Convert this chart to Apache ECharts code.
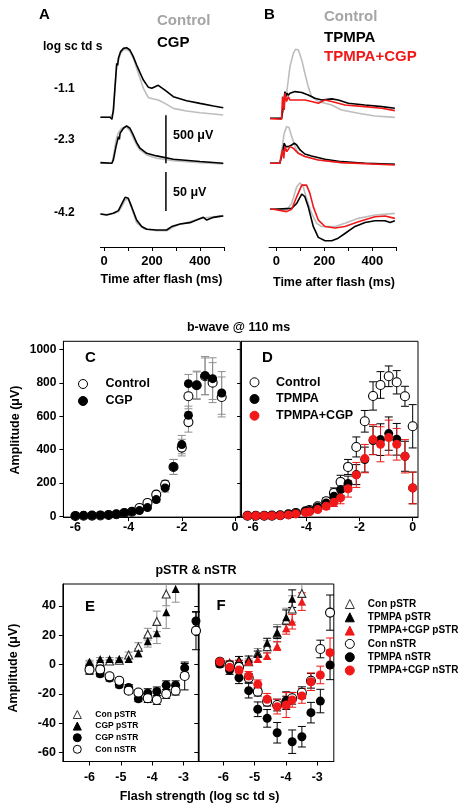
<!DOCTYPE html>
<html><head><meta charset="utf-8">
<script src="https://cdn.jsdelivr.net/npm/echarts@6/dist/echarts.min.js"></script>
<style>html,body{margin:0;padding:0;background:#fff}#c{width:461px;height:809px}</style>
</head><body><div id="c"></div>
<script>
// ---------------- DATA ----------------
// Panel A traces: [time ms, amplitude µV]
const aCtrl1 = [[-15,0],[25,0],[33,-10],[39,45],[46,302],[53,545],[60,590],[64,575],[69,666],[81,701],[94,708],[108,684],[122,614],[136,510],[150,406],[164,302],[185,204],[208,191],[226,180],[254,145],[289,93],[344,65],[400,48],[456,35],[497,24]];
const aCGP1 = [[-15,0],[25,0],[33,-21],[39,76],[46,319],[53,562],[57,540],[60,614],[64,597],[69,684],[81,718],[94,725],[108,701],[122,632],[136,545],[150,465],[164,388],[185,312],[199,302],[226,333],[254,284],[289,215],[344,173],[400,145],[456,118],[497,100]];
const aCtrl2 = [[-15,0],[33,0],[39,70],[50,243],[60,320],[74,365],[92,382],[108,340],[122,261],[136,191],[150,139],[178,87],[219,52],[289,28],[400,7],[497,-7]];
const aCGP2 = [[-15,7],[33,0],[39,35],[50,174],[60,278],[64,250],[67,313],[74,330],[81,365],[94,389],[108,365],[122,295],[136,216],[150,157],[178,104],[219,77],[289,42],[400,18],[497,0]];
const aCtrl3 = [[-15,-0.5],[11,-1.5],[39,0],[60,2],[74,8.5],[88,17],[101,18],[115,6.4],[136,-12],[164,-19.3],[219,-22.3],[261,-22.3],[282,-18.5],[317,-14],[358,-11],[386,-8],[414,-6],[456,-4.5],[497,-3]];
const aCGP3 = [[-15,-0.9],[11,-2.2],[39,0],[60,3.4],[74,12],[88,20.5],[101,19.2],[115,8.5],[136,-8.6],[157,-17],[178,-20.5],[219,-21.4],[261,-21.4],[282,-17],[317,-13.7],[358,-12],[386,-8.6],[414,-5.2],[428,-8.6],[456,-5.2],[483,-3.9],[497,-3.5]];
const scaleBar500 = [[258,0],[258,500]];
const scaleBar50 = [[258,3],[258,53]];
// Panel B traces
const bCtrl1 = [[-26,0],[22,0],[29,17],[43,261],[57,538],[71,677],[80,719],[92,712],[106,608],[119,469],[133,330],[147,226],[175,174],[203,156],[231,139],[272,87],[342,52],[411,24],[494,10]];
const bTP1 = [[-26,0],[22,0],[29,122],[36,278],[40,226],[44,261],[50,240],[57,261],[78,278],[106,268],[133,243],[161,209],[189,191],[231,202],[258,191],[300,156],[369,139],[439,122],[494,104]];
const bTPC1 = [[-26,-3],[22,-10],[26,226],[33,87],[36,261],[43,174],[50,226],[57,190],[64,209],[92,191],[119,191],[147,174],[175,156],[203,191],[231,174],[286,139],[369,122],[439,104],[494,80]];
const bCtrl2 = [[-26,0],[15,7],[25,174],[33,313],[43,382],[53,372],[64,278],[78,174],[92,104],[119,70],[175,35],[272,7],[494,-7]];
const bTP2 = [[-26,0],[15,0],[25,104],[33,209],[39,174],[50,174],[64,191],[75,209],[85,191],[99,139],[119,97],[147,77],[203,42],[272,17],[369,0],[494,-10]];
const bTPC2 = [[-26,0],[15,0],[25,139],[31,52],[36,174],[44,122],[57,174],[71,156],[92,104],[119,70],[175,35],[272,7],[494,-17]];
const bCtrl3 = [[-26,0],[-12,0],[43,-0.9],[64,7.6],[85,29],[99,34],[112,29],[126,14],[147,-5],[168,-18],[189,-22],[245,-22],[286,-18],[342,-11.6],[411,-7.4],[494,-5.2]];
const bTP3 = [[-26,0],[-12,0],[64,1.2],[85,7.6],[106,19.6],[119,16.2],[133,3.4],[154,-22],[175,-36],[203,-40.3],[231,-40.3],[258,-37],[286,-31],[328,-22],[370,-17],[411,-14.6],[453,-14.6],[474,-17],[494,-14.6]];
const bTPC3 = [[-26,0],[-12,0],[43,-3],[64,0],[85,16],[106,31],[126,31],[140,20.4],[154,3.4],[175,-13.8],[203,-22],[245,-24],[286,-22],[342,-16],[411,-9.5],[453,-8.6],[494,-11.6]];

// Panel C: b-wave @110 ms
const cX = [-6.0,-5.69,-5.375,-5.06,-4.75,-4.46,-4.16,-3.875,-3.59,-3.29,-2.96,-2.625,-2.31,-2.0,-1.75,-1.75,-1.44,-1.125,-0.84,-0.5];
const cControl = [2,3,4,5,8,12,20,27,50,80,130,190,296,412,720,565,786,840,802,716];
const cControlErr = [1,1,1,1,2,3,4,5,8,12,20,25,45,50,75,60,85,110,120,120];
const cCGP = [2,4,5,6,8,12,20,28,34,52,100,170,296,430,796,606,786,844,826,740];
const cCGPErr = [1,1,1,1,2,3,4,5,6,10,15,25,45,55,55,55,80,115,125,128];
// Panel D
const dX = [-6.21,-5.9,-5.58,-5.29,-4.98,-4.67,-4.39,-4.03,-3.88,-3.57,-3.25,-2.96,-2.71,-2.43,-2.12,-1.8,-1.49,-1.21,-0.9,-0.6,-0.29,0.0];
const dControl = [3,3,3,4,6,12,20,30,38,60,90,140,206,296,416,570,722,788,840,804,720,540];
const dControlErr = [2,2,2,2,3,4,6,8,10,15,20,30,40,45,60,65,85,80,62,70,60,130];
const dTPMPA = [3,3,3,4,6,12,18,30,35,55,80,120,160,196,250,340,455,460,496,462,360,170];
const dTPMPAErr = [2,2,2,2,3,4,6,8,10,12,18,25,35,45,60,75,85,95,100,95,90,95];
const dTPC = [3,3,3,3,4,8,14,22,26,40,60,84,110,165,248,346,460,432,472,432,360,170];
const dTPCErr = [2,2,2,2,3,4,6,8,10,12,18,25,35,50,75,85,90,105,105,95,100,95];
// Panel E: pSTR & nSTR
const eX = [-6.0,-5.66,-5.36,-5.05,-4.75,-4.44,-4.14,-3.85,-3.55,-3.25,-2.96,-2.6];
const eConP = [1,2,2.5,3,6.6,12,20.8,29.5,48.2,null,null,null];
const eConPErr = [1,1,1,1,2,3,4,7,8,null,null,null];
const eCGPP = [2.0,3.9,3.9,3.9,3.9,8,16,21.4,35.7,51.6,null,null];
const eCGPPErr = [1,1,1,1,2,3,4,7,11,9,null,null];
const eCGPN = [-3.4,-6.2,-9.1,-13.7,-15.5,-23.2,-19.4,-18.2,-14,-14,-2.2,29.8];
const eCGPNErr = [3,2,2,2,2,2,3,3,3,3,3,6];
const eConN = [-3.4,-3.2,-7.9,-11,-17.7,-19,-22.8,-24.1,-20,-17.7,-7.7,23.2];
const eConNErr = [3,2,2,2,2,2,3,3,3,3,9.5,13];
// Panel F
const fX = [-6.11,-5.8,-5.5,-5.19,-4.9,-4.6,-4.28,-3.99,-3.8,-3.49,-3.2,-2.9,-2.59];
const fConP = [2,1,2,2,8,12.3,21.4,30.5,38,48.6,null,null,null];
const fConPErr = [1,1,1,2,3,4,6,8,9,8,null,null,null];
const fTPP = [2,1.5,3.6,3.9,7.3,15,21.8,32.3,45,null,null,null,null];
const fTPPErr = [1,1,2,2,2,3,4,5,6,null,null,null,null];
const fTPCP = [2,1.5,2,2,3.9,5.9,12.7,24.8,29.3,43,null,null,null];
const fTPCPErr = [1,1,1,1,2,2,3,4,5,6,null,null,null];
const fConN = [2,-0.5,-1.5,-9,-18.4,-25.2,-27.5,-25.5,-22.9,-19.1,-11,10.7,35.5];
const fConNErr = [2,2,2,3,3,3,4,4,4,4,5,6,12];
const fTPN = [0.4,-3.6,-8.9,-17.7,-30.4,-36.6,-46.4,-24.5,-52.5,-49.1,-32.7,-24.8,-0.2];
const fTPNErr = [2,3,4,5,5,6,7,6,8,7,7,8,10];
const fTPCN = [2,-1.8,-3.6,-7.7,-13.4,-23.6,-28.6,-27.5,-24,-21.3,-11.6,-7,8.2];
const fTPCNErr = [2,2,2,3,3,4,5,8.5,5,5,6,6,10];

// ---------------- STYLE ----------------
const FONT = '"Liberation Sans", Arial, sans-serif';
const RED = '#f01818';
const GRAYLINE = '#bdbdbd';
const GRAYERR = '#8f8f8f';

const gridDefs = [
  [100.4, 40.5, 123.6, 81.6, false],
  [100.4, 110.5, 123.6, 57.6, false],
  [100.4, 166.5, 123.6, 78, false],
  [100.4, 200, 123.6, 47, false],
  [269.1, 41.5, 127.2, 81.6, false],
  [269.1, 110.5, 127.2, 57.6, false],
  [269.1, 170.3, 127.2, 78, false],
  [269.1, 200, 127.2, 47, false],
  [63.4, 341.3, 176.9, 175.8, true],
  [241.1, 341.3, 176.9, 175.8, true],
  [62.9, 584, 136.2, 177.5, true],
  [198.3, 584, 135.5, 177.5, true]
];
const grid = gridDefs.map(g => ({left:g[0], top:g[1], width:g[2], height:g[3], show:g[4],
  borderColor:'#000', borderWidth:1, backgroundColor:'transparent', containLabel:false, outerBoundsMode:'none'}));

const plainNum = v => String(v);
function hidden(i, min, max){ return {type:'value', gridIndex:i, min, max, show:false}; }
function shownX(i, min, max, ticks, labels, fs, margin){
  return {type:'value', gridIndex:i, min, max, position:'bottom',
    axisLine:{show:true, onZero:false, lineStyle:{color:'#000', width:1}},
    axisTick:{show:true, inside:false, length:4, customValues:ticks, lineStyle:{color:'#000'}},
    axisLabel:{show:labels!==null, customValues:labels||ticks, formatter:plainNum, margin, color:'#000', fontWeight:'bold', fontSize:fs, fontFamily:FONT},
    splitLine:{show:false}};
}
function shownY(i, min, max, ticks, showLabels, fs){
  return {type:'value', gridIndex:i, min, max, position:'left',
    axisLine:{show:true, onZero:false, lineStyle:{color:'#000', width:1}},
    axisTick:{show:true, inside:false, length:4, customValues:ticks, lineStyle:{color:'#000'}},
    axisLabel:{show:showLabels, customValues:ticks, formatter:plainNum, margin:7, color:'#000', fontWeight:'bold', fontSize:fs, fontFamily:FONT},
    splitLine:{show:false}};
}

const xAxis = [
  hidden(0,-15,500), hidden(1,-15,500), hidden(2,-15,500),
  shownX(3,-15,500,[0,100,200,300,400,500],[0,200,400],13,8),
  hidden(4,-30,500), hidden(5,-30,500), hidden(6,-30,500),
  shownX(7,-30,500,[0,100,200,300,400,500],[0,200,400],13,8),
  shownX(8,-6.45,0.2,[-6,-4,-2,0],[-6,-4,-2,0],12.5,4),
  shownX(9,-6.45,0.2,[-6,-4,-2,0],[-6,-4,-2,0],12.5,4),
  shownX(10,-6.85,-2.5,[-6,-5,-4,-3],[-6,-5,-4,-3],12.5,10),
  shownX(11,-6.8,-2.47,[-6,-5,-4,-3],[-6,-5,-4,-3],12.5,10)
];
const yAxis = [
  hidden(0,-50,800), hidden(1,-50,550), hidden(2,-40,60), hidden(3,0,1),
  hidden(4,-50,800), hidden(5,-50,550), hidden(6,-50,50), hidden(7,0,1),
  shownY(8,-5,1050,[0,200,400,600,800,1000],true,12),
  shownY(9,-5,1050,[0,200,400,600,800,1000],false,12),
  shownY(10,-66,55,[-60,-40,-20,0,20,40],true,12.5),
  shownY(11,-66,55,[-60,-40,-20,0,20,40],false,12.5)
];

// ---------------- SERIES HELPERS ----------------
function trace(i, data, color, w){
  return {type:'line', xAxisIndex:i, yAxisIndex:i, data, symbol:'none', showSymbol:false,
    lineStyle:{color, width:w||1.6}, silent:true, animation:false};
}
function zip(xs, ys){ const o=[]; xs.forEach((x,k)=>{ if(ys[k]!=null) o.push([x,ys[k]]); }); return o; }
function pts(name, i, xs, ys, symbol, size, fill, stroke){
  return {type:'scatter', name, xAxisIndex:i, yAxisIndex:i, data:zip(xs,ys), symbol, symbolSize:size,
    itemStyle:{color:fill, borderColor:stroke, borderWidth: fill==='#fff'?1.1:0, opacity:1}, silent:true, animation:false};
}
function errBar(i, xs, ys, es, color, cap){
  const data=[];
  xs.forEach((x,k)=>{ if(ys[k]!=null && es[k]!=null) data.push([x, ys[k]-es[k], ys[k]+es[k]]); });
  return {type:'custom', xAxisIndex:i, yAxisIndex:i, data, silent:true, animation:false, clip:true,
    encode:{x:0, y:[1,2]},
    renderItem(params, api){
      const x=api.value(0), lo=api.value(1), hi=api.value(2);
      const a=api.coord([x,hi]), b=api.coord([x,lo]);
      const st={stroke:color, lineWidth:1};
      return {type:'group', children:[
        {type:'line', shape:{x1:a[0],y1:a[1],x2:b[0],y2:b[1]}, style:st},
        {type:'line', shape:{x1:a[0]-cap,y1:a[1],x2:a[0]+cap,y2:a[1]}, style:st},
        {type:'line', shape:{x1:b[0]-cap,y1:b[1],x2:b[0]+cap,y2:b[1]}, style:st}
      ]};
    }};
}

const series = [
  trace(0,aCtrl1,GRAYLINE), trace(0,aCGP1,'#000'),
  trace(1,aCtrl2,GRAYLINE), trace(1,aCGP2,'#000'), trace(1,scaleBar500,'#000',1.5),
  trace(2,aCtrl3,GRAYLINE), trace(2,aCGP3,'#000'), trace(2,scaleBar50,'#000',1.5),
  trace(4,bCtrl1,GRAYLINE), trace(4,bTP1,'#000'), trace(4,bTPC1,RED),
  trace(5,bCtrl2,GRAYLINE), trace(5,bTP2,'#000'), trace(5,bTPC2,RED),
  trace(6,bCtrl3,GRAYLINE), trace(6,bTP3,'#000'), trace(6,bTPC3,RED),
  // C
  errBar(8,cX,cControl,cControlErr,GRAYERR,4),
  errBar(8,cX,cCGP,cCGPErr,GRAYERR,4),
  pts('Control',8,cX,cControl,'circle',9,'#fff','#000'),
  pts('CGP',8,cX,cCGP,'circle',9,'#000','#000'),
  // D
  errBar(9,dX,dControl,dControlErr,'#000',4),
  pts('Control',9,dX,dControl,'circle',9,'#fff','#000'),
  errBar(9,dX,dTPMPA,dTPMPAErr,'#000',4),
  pts('TPMPA',9,dX,dTPMPA,'circle',9,'#000','#000'),
  errBar(9,dX,dTPC,dTPCErr,RED,4),
  pts('TPMPA+CGP',9,dX,dTPC,'circle',9,RED,RED),
  // E
  errBar(10,eX,eConP,eConPErr,GRAYERR,4),
  pts('Con pSTR',10,eX,eConP,'triangle',8,'#fff','#333'),
  errBar(10,eX,eCGPP,eCGPPErr,GRAYERR,4),
  pts('CGP pSTR',10,eX,eCGPP,'triangle',8,'#000','#000'),
  errBar(10,eX,eCGPN,eCGPNErr,'#000',4),
  pts('CGP nSTR',10,eX,eCGPN,'circle',9,'#000','#000'),
  errBar(10,eX,eConN,eConNErr,'#000',4),
  pts('Con nSTR',10,eX,eConN,'circle',9,'#fff','#000'),
  // F
  errBar(11,fX,fConP,fConPErr,GRAYERR,4),
  pts('Con pSTR',11,fX,fConP,'triangle',8,'#fff','#333'),
  errBar(11,fX,fTPP,fTPPErr,'#000',4),
  pts('TPMPA pSTR',11,fX,fTPP,'triangle',8,'#000','#000'),
  errBar(11,fX,fTPCP,fTPCPErr,RED,4),
  pts('TPMPA+CGP pSTR',11,fX,fTPCP,'triangle',8,RED,RED),
  errBar(11,fX,fConN,fConNErr,'#000',4),
  pts('Con nSTR',11,fX,fConN,'circle',9,'#fff','#000'),
  errBar(11,fX,fTPN,fTPNErr,'#000',4),
  pts('TPMPA nSTR',11,fX,fTPN,'circle',9,'#000','#000'),
  errBar(11,fX,fTPCN,fTPCNErr,RED,4),
  pts('TPMPA+CGP nSTR',11,fX,fTPCN,'circle',9,RED,RED)
];

function legend(names, left, top, fs, lh, gap, icon, pad){
  return {data:names, orient:'vertical', left, top, padding:0, itemGap:gap, itemWidth:icon, itemHeight:icon,
    selectedMode:false,
    itemStyle:{borderWidth:1},
    textStyle:{color:'#000', fontWeight:'bold', fontSize:fs, lineHeight:lh, fontFamily:FONT, padding:[0,0,0,pad]}};
}
const legends = [
  legend(['Control','CGP'], 78, 377, 12.5, 14, 3, 9, 13),
  legend(['Control','TPMPA','TPMPA+CGP'], 249.5, 375.3, 12.5, 14, 2.7, 9, 12),
  legend(['Con pSTR','CGP pSTR','CGP nSTR','Con nSTR'], 72.8, 709.5, 8.5, 10, 1.6, 8, 9),
  legend(['Con pSTR','TPMPA pSTR','TPMPA+CGP pSTR','Con nSTR','TPMPA nSTR','TPMPA+CGP nSTR'], 344.8, 598, 10, 12, 1.3, 9, 8.5)
];

function txt(text, x, y, size, opts){
  opts = opts || {};
  return {type:'text', x, y, rotation: opts.rot||0, silent:true,
    style:{text, fill:opts.color||'#000', font:'bold '+size+'px '+FONT,
      textAlign:opts.align||'left', textVerticalAlign:'middle', align:opts.align||'left', verticalAlign:'middle'}};
}
const graphic = [
  txt('A', 39, 15, 15),
  txt('Control', 157, 21, 15, {color:'#a5a5a5'}),
  txt('CGP', 157, 43, 15),
  txt('log sc td s', 43, 47, 12),
  txt('-1.1', 54, 89, 12),
  txt('-2.3', 54, 140, 12),
  txt('-4.2', 54, 213, 12),
  txt('500 μV', 173, 136, 12.5),
  txt('50 μV', 173, 193, 12.5),
  txt('Time after flash (ms)', 161.5, 280, 12.5, {align:'center'}),
  txt('B', 264, 15, 15),
  txt('Control', 324, 17, 15, {color:'#a5a5a5'}),
  txt('TPMPA', 324, 38, 15),
  txt('TPMPA+CGP', 324, 57, 15, {color:RED}),
  txt('Time after flash (ms)', 334, 283, 12.5, {align:'center'}),
  txt('b-wave @ 110 ms', 238.5, 328, 12.5, {align:'center'}),
  txt('C', 85, 358, 15),
  txt('D', 262, 358, 15),
  txt('Amplitude (μV)', 16, 430, 12.5, {align:'center', rot:Math.PI/2}),
  txt('pSTR & nSTR', 196, 571, 12.5, {align:'center'}),
  txt('E', 85, 607, 15),
  txt('F', 216.5, 606, 15),
  txt('Amplitude (μV)', 14, 668, 12.5, {align:'center', rot:Math.PI/2}),
  txt('Flash strength (log sc td s)', 199.5, 797, 12.5, {align:'center'})
];

const chart = echarts.init(document.getElementById('c'), null, {renderer:'canvas', width:461, height:809});
chart.setOption({animation:false, backgroundColor:'#fff', grid, xAxis, yAxis, series, legend:legends, graphic});
</script>
</body></html>
